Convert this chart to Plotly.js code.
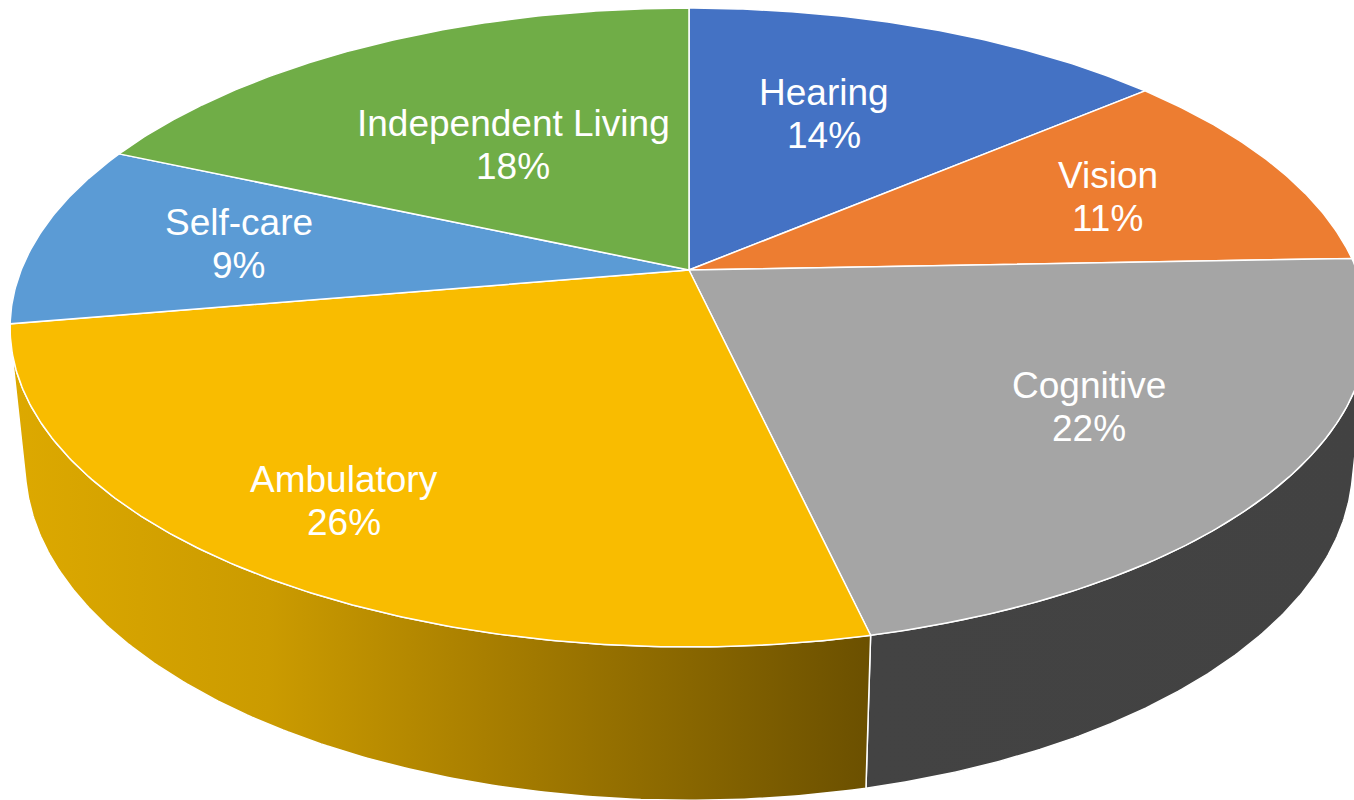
<!DOCTYPE html>
<html>
<head>
<meta charset="utf-8">
<script src="https://cdn.plot.ly/plotly-3.0.1.min.js"></script>
<style>html,body{margin:0;padding:0;background:#fff;}#chart{width:1354px;height:800px;}</style>
</head>
<body>
<div id="chart"></div>
<script>
// ---- data ----
const categories = ['Hearing', 'Vision', 'Cognitive', 'Ambulatory', 'Self-care', 'Independent Living'];
const values = [13.8, 10.6, 22.0, 25.9, 9.3, 18.4];

// ---- styles ----
const topColors = ['#4472C4', '#ED7D31', '#A5A5A5', '#F9BC00', '#5B9BD5', '#70AD47'];
const sideGradients = [
  [[0, '#34589A'], [1, '#34589A']],
  [[0, '#B45F24'], [1, '#B45F24']],
  [[0, '#434343'], [1, '#424242']],
  [[0, '#DDA900'], [0.3, '#CB9B00'], [0.55, '#A97F00'], [1, '#6B5000']],
  [[0, '#4577A4'], [1, '#4577A4']],
  [[0, '#567F36'], [1, '#567F36']]
];
const labelRadius = [0.6, 0.7, 0.69, 0.8, 0.69, 0.52];
const labelAngleShift = [-3, 0.5, -1, 1, 0, 0];

// ---- 3D projection of the pie (tilted disc seen in perspective) ----
const view = {cx: 689, cy: 270, F: 3289, D: 4.925, alpha: 27.57 * Math.PI / 180, H: 0.232};
const sa = Math.sin(view.alpha), ca = Math.cos(view.alpha);
function project(r, tDeg, h) {
  const t = tDeg * Math.PI / 180;
  const X = r * Math.sin(t), v = r * Math.cos(t);
  const depth = view.D + v * ca - h * sa;
  const up = v * sa + h * ca;
  return [view.cx + view.F * X / depth, view.cy - view.F * up / depth];
}
function arc(r, t1, t2, h) {
  const pts = [];
  const n = Math.max(2, Math.ceil(Math.abs(t2 - t1) / 0.5));
  for (let i = 0; i <= n; i++) pts.push(project(r, t1 + (t2 - t1) * i / n, h));
  return pts;
}

const total = values.reduce((a, b) => a + b, 0);
const starts = [], ends = [];
let acc = 0;
values.forEach(v => { starts.push(acc / total * 360); acc += v; ends.push(acc / total * 360); });

// visible part of the outer wall
const tVis = Math.acos(-1 / (view.D * ca)) * 180 / Math.PI;
const visL = tVis, visR = 360 - tVis;

const traces = [];
// side walls
values.forEach((v, i) => {
  const a = Math.max(starts[i], visL), b = Math.min(ends[i], visR);
  if (b <= a) return;
  const top = arc(1, a, b, 0);
  const bot = arc(1, b, a, -view.H);
  const pts = top.concat(bot);
  pts.push(top[0]);
  traces.push({
    type: 'scatter', mode: 'lines', fill: 'toself',
    x: pts.map(p => p[0]), y: pts.map(p => p[1]),
    fillgradient: {type: 'horizontal', colorscale: sideGradients[i]},
    line: {color: '#ffffff', width: 1.5},
    hoverinfo: 'skip', showlegend: false
  });
});
// top face slices
values.forEach((v, i) => {
  const c = project(0, 0, 0);
  const pts = [c].concat(arc(1, starts[i], ends[i], 0));
  pts.push(c);
  traces.push({
    type: 'scatter', mode: 'lines', fill: 'toself',
    x: pts.map(p => p[0]), y: pts.map(p => p[1]),
    fillcolor: topColors[i],
    line: {color: '#ffffff', width: 1.5},
    name: categories[i], hoverinfo: 'skip', showlegend: false
  });
});

// labels (category line + percentage line)
const labelFont = {family: 'Liberation Sans, Arial, sans-serif', size: 37, color: '#ffffff'};
const annotations = [];
values.forEach((v, i) => {
  const mid = (starts[i] + ends[i]) / 2 + labelAngleShift[i];
  const p = project(labelRadius[i], mid, 0);
  const base = {x: p[0], y: p[1], xref: 'x', yref: 'y', showarrow: false,
    xanchor: 'center', yanchor: 'middle', align: 'center', font: labelFont};
  annotations.push(Object.assign({}, base, {text: categories[i], yshift: 21.5}));
  annotations.push(Object.assign({}, base, {text: Math.round(v / total * 100) + '%', yshift: -21.5}));
});

const layout = {
  width: 1354, height: 800,
  margin: {l: 0, r: 0, t: 0, b: 0, pad: 0},
  paper_bgcolor: '#ffffff', plot_bgcolor: '#ffffff',
  xaxis: {range: [0, 1354], visible: false, fixedrange: true},
  yaxis: {range: [800, 0], visible: false, fixedrange: true},
  showlegend: false,
  annotations: annotations
};
Plotly.newPlot('chart', traces, layout, {staticPlot: true, displayModeBar: false});
</script>
</body>
</html>
